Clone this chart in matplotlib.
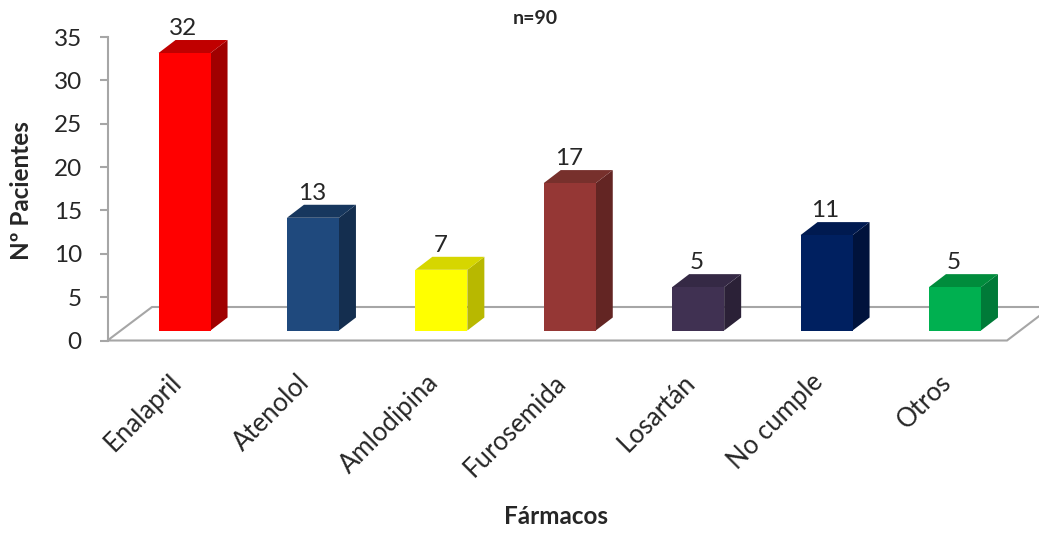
import matplotlib
matplotlib.use("Agg")
import matplotlib.pyplot as plt
from matplotlib.patches import Polygon
from matplotlib.transforms import ScaledTranslation

plt.rcParams["font.family"] = ["Lato", "DejaVu Sans"]

farmacos = ["Enalapril", "Atenolol", "Amlodipina", "Furosemida", "Losartán", "No cumple", "Otros"]
pacientes = [32, 13, 7, 17, 5, 11, 5]
front_colors = ["#FF0000", "#1F497D", "#FFFF00", "#953735", "#403152", "#002060", "#00B050"]
side_colors = ["#A00000", "#142E4F", "#B8B800", "#632523", "#2B2137", "#00133C", "#007A38"]
top_colors = ["#C00000", "#17375E", "#D6D600", "#77302C", "#352945", "#001A50", "#008C3C"]
y_ticks = [0, 5, 10, 15, 20, 25, 30, 35]

W, H = 1039, 533
line_color = "#A6A6A6"
text_color = "#262626"

fig = plt.figure(figsize=(W / 100, H / 100), dpi=100)
ax = fig.add_axes([107.5 / W, 1 - 340.5 / H, 895.5 / W, 303.5 / H])
ax.set_xlim(-0.6, 6.374)
ax.set_ylim(0, 35)

# size of one pixel in data units, used for the fake 3D depth
px_x = (6.374 + 0.6) / 895.5
px_y = 35 / 303.5
bar_w = 52 * px_x
dx = 17 * px_x
dy = 13 * px_y
base = 10 * px_y

# floor of the 3D box, its far corner runs off the right edge
x0, x1 = ax.get_xlim()
floor = Polygon([(x0, 0), (x0 + 44.5 * px_x, 33.5 * px_y), (x1 + 48 * px_x, 33.5 * px_y), (x1 + 4 * px_x, 0)],
                closed=True, facecolor="white", edgecolor=line_color, linewidth=1.5,
                clip_on=False, zorder=1)
ax.add_patch(floor)

positions = list(range(len(farmacos)))
ax.bar(positions, pacientes, width=bar_w, bottom=base, color=front_colors, zorder=3)

for i, v in enumerate(pacientes):
    left = i - bar_w / 2
    right = i + bar_w / 2
    top = base + v
    ax.add_patch(Polygon([(right, base), (right + dx, base + dy), (right + dx, top + dy), (right, top)],
                         closed=True, facecolor=side_colors[i], edgecolor="none", zorder=2, clip_on=False))
    ax.add_patch(Polygon([(left, top), (left + dx, top + dy), (right + dx, top + dy), (right, top)],
                         closed=True, facecolor=top_colors[i], edgecolor="none", zorder=2, clip_on=False))
    ax.text(i - 1 * px_x, top + dy + 5 * px_y, str(v), ha="center", va="baseline",
            fontsize=17.5, color=text_color, zorder=4, clip_on=False)

ax.spines["top"].set_visible(False)
ax.spines["right"].set_visible(False)
ax.spines["bottom"].set_visible(False)
ax.spines["left"].set_color(line_color)
ax.spines["left"].set_linewidth(1.5)
ax.set_yticks(y_ticks)
ax.tick_params(axis="y", labelsize=17.5, length=5.5, color=line_color, width=1.5, pad=13, labelcolor=text_color)
ax.set_xticks(positions)
ax.set_xticklabels(farmacos, rotation=45, ha="right", rotation_mode="anchor", fontsize=18.5, color=text_color)
ax.tick_params(axis="x", length=0, pad=21)

# rotated labels sit a little left of their bars
shift = ScaledTranslation(-16 / 100, 0, fig.dpi_scale_trans)
for label in ax.get_xticklabels():
    label.set_transform(label.get_transform() + shift)

fig.text(535 / W, 1 - 18 / H, "n=90", ha="center", va="center", fontsize=14, fontweight="bold", color=text_color)
fig.text(556 / W, 1 - 516 / H, "Fármacos", ha="center", va="center", fontsize=17.5, fontweight="bold", color=text_color)
fig.text(22 / W, 1 - 191 / H, "Nº Pacientes", ha="center", va="center", rotation=90, fontsize=17.5,
         fontweight="bold", color=text_color)

fig.savefig("out.png", dpi=100)
